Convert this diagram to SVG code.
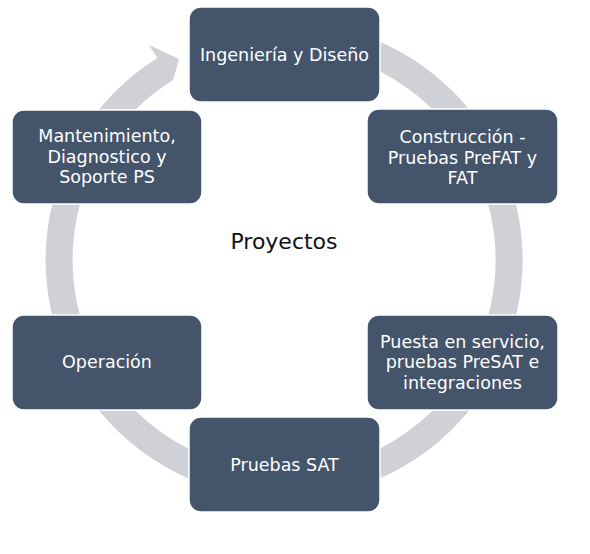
<svg xmlns="http://www.w3.org/2000/svg" width="590" height="554" viewBox="0 0 590 554">
  <style>
    .box { fill: #44546A; stroke: #FFFFFF; stroke-width: 1.5; }
    .lbl { fill: #FFFFFF; font-family: "DejaVu Sans", "Liberation Sans", sans-serif; font-size: 17.5px; text-anchor: middle; }
    .center { fill: #111111; font-family: "DejaVu Sans", "Liberation Sans", sans-serif; font-size: 22px; text-anchor: middle; }
  </style>
  <rect x="0" y="0" width="590" height="554" fill="#FFFFFF"/>
  <g id="connectors">
    <path d="M 304.8 22.4 A 238.5 238.5 0 1 1 157.3 58.0 L 149 45 L 179 59 L 173.2 79.9 A 211.5 211.5 0 1 0 302.4 49.3 Z" fill="#D0D1D6"/>
  </g>
  <text class="center" x="284" y="249">Proyectos</text>
  <g id="node-ingenieria">
    <rect class="box" x="189" y="7" width="191" height="95" rx="12"/>
    <text class="lbl" x="284.5" y="61">Ingeniería y Diseño</text>
  </g>
  <g id="node-construccion">
    <rect class="box" x="367" y="109" width="191" height="95" rx="12"/>
    <text class="lbl" x="462.5" y="143">Construcción -</text>
    <text class="lbl" x="462.5" y="164">Pruebas PreFAT y</text>
    <text class="lbl" x="462.5" y="184">FAT</text>
  </g>
  <g id="node-puesta">
    <rect class="box" x="367" y="315" width="191" height="95" rx="12"/>
    <text class="lbl" x="462.5" y="348">Puesta en servicio,</text>
    <text class="lbl" x="462.5" y="368">pruebas PreSAT e</text>
    <text class="lbl" x="462.5" y="389">integraciones</text>
  </g>
  <g id="node-pruebas-sat">
    <rect class="box" x="189" y="417" width="191" height="95" rx="12"/>
    <text class="lbl" x="284.5" y="471">Pruebas SAT</text>
  </g>
  <g id="node-operacion">
    <rect class="box" x="12" y="315" width="190" height="95" rx="12"/>
    <text class="lbl" x="107" y="368">Operación</text>
  </g>
  <g id="node-mantenimiento">
    <rect class="box" x="12" y="110" width="190" height="94" rx="12"/>
    <text class="lbl" x="107" y="142">Mantenimiento,</text>
    <text class="lbl" x="107" y="163">Diagnostico y</text>
    <text class="lbl" x="107" y="183">Soporte PS</text>
  </g>
</svg>
